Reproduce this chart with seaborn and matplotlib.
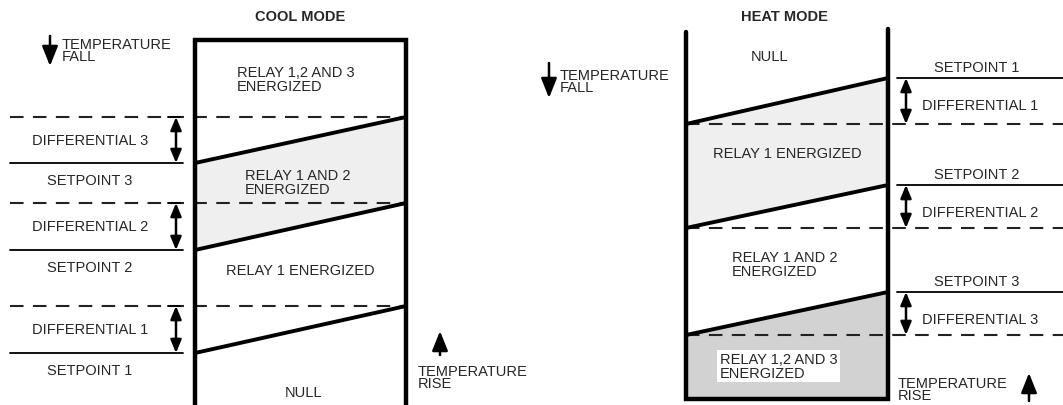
import matplotlib
matplotlib.use("Agg")
import matplotlib.pyplot as plt
import seaborn as sns
import pandas as pd

sns.set_style("white")
plt.rcParams['font.family'] = ['Liberation Sans', 'DejaVu Sans']

# levels (pixel rows, top = 0)
cool_setpoints = [354, 251, 164]      # setpoint 1, 2, 3
cool_diff_tops = [307, 204, 118]      # dashed line of differential 1, 2, 3
heat_setpoints = [79, 186, 293]
heat_diff_bottoms = [125, 229, 336]
cool_labels = ["1", "2", "3"]
heat_labels = ["1", "2", "3"]

# box edges
cool_left, cool_right, cool_top = 195, 406, 41
heat_left, heat_right, heat_bottom = 686, 888, 400

fig = plt.figure(figsize=(10.63, 4.06), dpi=100)
ax = fig.add_axes([0, 0, 1, 1])

fs = 10.5
lw_box = 3.2
light = "#efefef"
mid = "#d2d2d2"
big_arrow = dict(arrowstyle="-|>,head_width=0.3,head_length=0.75", color="black", lw=1.8,
                 mutation_scale=16, shrinkA=0, shrinkB=0)
diff_arrow = dict(arrowstyle="<|-|>,head_width=0.27,head_length=0.65", color="black", lw=1.8,
                  mutation_scale=12, shrinkA=0, shrinkB=0)

# ---------- COOL MODE ----------
ax.text(300, 17, "COOL MODE", ha="center", va="center", fontsize=fs, fontweight="bold")
# shaded region between slope 3 and slope 2
ax.fill([cool_left, cool_right, cool_right, cool_left],
        [cool_setpoints[2], cool_diff_tops[2], cool_diff_tops[1], cool_setpoints[1]],
        color=light, lw=0, zorder=0)
ax.plot([cool_left, cool_left, cool_right, cool_right], [406, cool_top, cool_top, 406],
        color="black", lw=lw_box, solid_joinstyle="miter", zorder=3)

slopes = []
for i in range(3):
    slopes.append({"x": cool_left, "y": cool_setpoints[i], "g": "c" + cool_labels[i]})
    slopes.append({"x": cool_right, "y": cool_diff_tops[i], "g": "c" + cool_labels[i]})
    # dashed line
    ax.plot([10, cool_right], [cool_diff_tops[i]] * 2, color="#222222", lw=1.5,
            dashes=(6.5, 4.5), zorder=2)
    # setpoint line
    ax.plot([10, 183], [cool_setpoints[i]] * 2, color="black", lw=1.3)
    # differential arrow
    ax.annotate("", xy=(176, cool_diff_tops[i]), xytext=(176, cool_setpoints[i]),
                arrowprops=diff_arrow)
    ax.plot([168, 180], [cool_diff_tops[i]] * 2, color="black", lw=1.4)
    ax.text(90, cool_diff_tops[i] + 23, "DIFFERENTIAL " + cool_labels[i],
            ha="center", va="center", fontsize=fs)
    ax.text(90, cool_setpoints[i] + 17, "SETPOINT " + cool_labels[i],
            ha="center", va="center", fontsize=fs)

ax.text(237, 80, "RELAY 1,2 AND 3\nENERGIZED", ha="left", va="center",
        fontsize=fs, linespacing=0.95)
ax.text(245, 183, "RELAY 1 AND 2\nENERGIZED", ha="left", va="center",
        fontsize=fs, linespacing=0.95)
ax.text(300, 271, "RELAY 1 ENERGIZED", ha="center", va="center", fontsize=fs)
ax.text(303, 393, "NULL", ha="center", va="center", fontsize=fs)

ax.annotate("", xy=(50, 67), xytext=(50, 37), arrowprops=big_arrow)
ax.text(62, 51, "TEMPERATURE\nFALL", ha="left", va="center", fontsize=fs, linespacing=0.85)
ax.annotate("", xy=(440, 332), xytext=(440, 356), arrowprops=big_arrow)
ax.text(418, 378, "TEMPERATURE\nRISE", ha="left", va="center", fontsize=fs, linespacing=0.85)

# ---------- HEAT MODE ----------
ax.text(784, 17, "HEAT MODE", ha="center", va="center", fontsize=fs, fontweight="bold")
ax.fill([heat_left, heat_right, heat_right, heat_left],
        [heat_diff_bottoms[0], heat_setpoints[0], heat_setpoints[1], heat_diff_bottoms[1]],
        color=light, lw=0, zorder=0)
ax.fill([heat_left, heat_right, heat_right, heat_left],
        [heat_diff_bottoms[2], heat_setpoints[2], heat_bottom, heat_bottom],
        color=mid, lw=0, zorder=0)
ax.plot([heat_left, heat_left, heat_right, heat_right], [33, heat_bottom, heat_bottom, 30],
        color="black", lw=lw_box, solid_joinstyle="miter", zorder=3)

for i in range(3):
    slopes.append({"x": heat_left, "y": heat_diff_bottoms[i], "g": "h" + heat_labels[i]})
    slopes.append({"x": heat_right, "y": heat_setpoints[i], "g": "h" + heat_labels[i]})
    ax.plot([heat_left, 1063], [heat_diff_bottoms[i]] * 2, color="#222222", lw=1.5,
            dashes=(6.5, 4.5), zorder=2)
    ax.plot([897, 1063], [heat_setpoints[i]] * 2, color="black", lw=1.3)
    ax.annotate("", xy=(906, heat_diff_bottoms[i]), xytext=(906, heat_setpoints[i]),
                arrowprops=diff_arrow)
    ax.text(977, heat_setpoints[i] - 11, "SETPOINT " + heat_labels[i],
            ha="center", va="center", fontsize=fs)
    ax.text(922, heat_setpoints[i] + 27, "DIFFERENTIAL " + heat_labels[i],
            ha="left", va="center", fontsize=fs)

ax.text(770, 57, "NULL", ha="center", va="center", fontsize=fs)
ax.text(787, 154, "RELAY 1 ENERGIZED", ha="center", va="center", fontsize=fs)
ax.text(732, 265, "RELAY 1 AND 2\nENERGIZED", ha="left", va="center",
        fontsize=fs, linespacing=0.95)
ax.text(720, 367, "RELAY 1,2 AND 3\nENERGIZED", ha="left", va="center",
        fontsize=fs, linespacing=0.95,
        bbox=dict(facecolor="white", edgecolor="none", pad=2))

ax.annotate("", xy=(549, 99), xytext=(549, 64), arrowprops=big_arrow)
ax.text(560, 82, "TEMPERATURE\nFALL", ha="left", va="center", fontsize=fs, linespacing=0.85)
ax.annotate("", xy=(1029, 374), xytext=(1029, 402), arrowprops=big_arrow)
ax.text(898, 390, "TEMPERATURE\nRISE", ha="left", va="center", fontsize=fs, linespacing=0.85)

# sloped switching lines
slope_df = pd.DataFrame(slopes)
sns.lineplot(data=slope_df, x="x", y="y", units="g", estimator=None, sort=False,
             color="black", lw=2.8, ax=ax, legend=False, zorder=4)
ax.set_xlim(0, 1063)
ax.set_ylim(406, 0)
ax.axis("off")

fig.savefig("out.png", dpi=100)
